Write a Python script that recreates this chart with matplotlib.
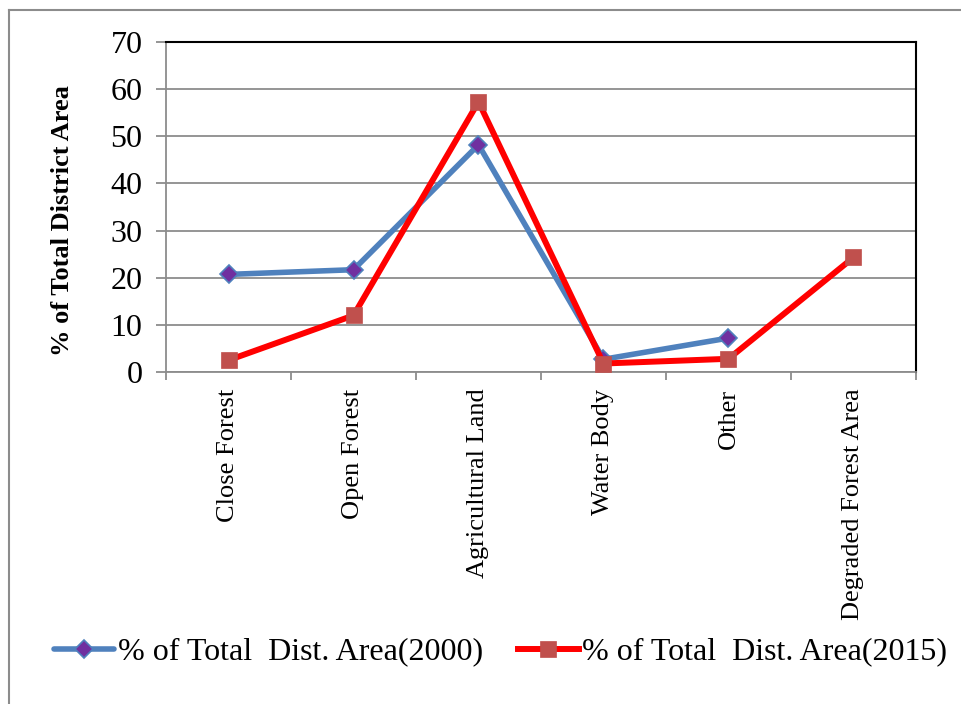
import numpy as np
import matplotlib
matplotlib.use("Agg")
import matplotlib.pyplot as plt
from matplotlib.lines import Line2D

categories = ["Close Forest", "Open Forest", "Agricultural Land", "Water Body", "Other", "Degraded Forest Area"]
area_2000 = [20.7, 21.7, 48.2, 2.7, 7.2, np.nan]
area_2015 = [2.5, 12.0, 57.3, 1.8, 2.8, 24.3]
yticks = [0, 10, 20, 30, 40, 50, 60, 70]
label_2000 = "% of Total  Dist. Area(2000)"
label_2015 = "% of Total  Dist. Area(2015)"
ylabel = "% of Total District Area"

plt.rcParams['font.family'] = ['Liberation Serif', 'DejaVu Serif']

fig = plt.figure(figsize=(9.62, 7.04), dpi=100)
ax = fig.add_axes([166/962, 1-372/704, 750/962, 330/704])

x = np.arange(len(categories))
ax.plot(x, area_2000, color='#4F81BD', lw=4.0, marker='D', markersize=9.5,
        markerfacecolor='#7030A0', markeredgecolor='#4F81BD', markeredgewidth=1.2,
        label=label_2000, zorder=3, solid_capstyle='round')
ax.plot(x, area_2015, color='#FF0000', lw=4.3, marker='s', markersize=11,
        markerfacecolor='#C0504D', markeredgecolor='#C0504D', markeredgewidth=0.5,
        label=label_2015, zorder=4)

ax.set_xlim(-0.5, len(categories) - 0.5)
ax.set_ylim(0, 70)
ax.set_yticks(yticks)
ax.set_yticklabels([str(v) for v in yticks], fontsize=23)
ax.yaxis.grid(True, color='#8c8c8c', lw=1.3)
ax.set_axisbelow(True)

ax.set_xticks(x)
ax.set_xticklabels(categories, rotation=90, fontsize=19, va='top', ha='center')
ax.set_xticks(np.arange(len(categories) + 1) - 0.5, minor=True)
ax.tick_params(axis='x', which='major', length=0, pad=12)
ax.tick_params(axis='x', which='minor', length=6, width=1.3, color='#8c8c8c', direction='out')
ax.tick_params(axis='y', length=7, width=1.3, color='#8c8c8c', direction='out', pad=10)

for s in ['left', 'bottom']:
    ax.spines[s].set_color('#8c8c8c')
    ax.spines[s].set_linewidth(1.3)
for s in ['top', 'right']:
    ax.spines[s].set_color('black')
    ax.spines[s].set_linewidth(1.5)

ax.set_ylabel(ylabel, fontsize=19, fontweight='bold')
ax.yaxis.set_label_coords(-92/750, 0.5 - 14/330)

fig.legend(loc='center', bbox_to_anchor=(0.52, 1-652/704), ncol=2, frameon=False,
           fontsize=23, handlelength=1.9, handletextpad=0.1, columnspacing=1.1)

# outer frame
fig.add_artist(Line2D([9/962, 9/962], [0, 1-10/704], transform=fig.transFigure, color='#8c8c8c', lw=1.5))
fig.add_artist(Line2D([9/962, 1], [1-10/704, 1-10/704], transform=fig.transFigure, color='#8c8c8c', lw=1.5))

fig.savefig("out.png", dpi=100)
